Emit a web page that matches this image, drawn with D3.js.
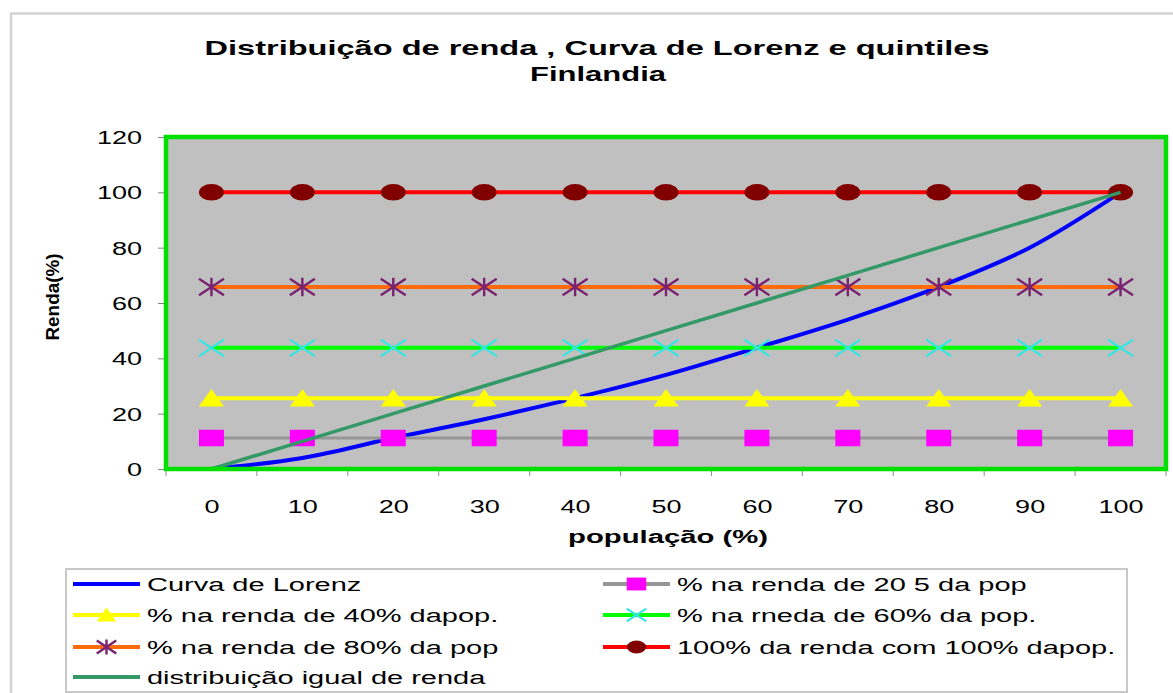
<!DOCTYPE html>
<html>
<head>
<meta charset="utf-8">
<script src="https://cdn.jsdelivr.net/npm/d3@7"></script>
<style>
  html, body { margin: 0; padding: 0; background: #ffffff; }
  svg { display: block; font-family: "Liberation Sans", Arial, sans-serif; }
</style>
</head>
<body>
<svg id="chart" width="1173" height="693"></svg>
<script>
// ---------- data ----------
const categories = ["0", "10", "20", "30", "40", "50", "60", "70", "80", "90", "100"];
const lorenz   = [0, 4, 11.2, 18, 25.6, 34, 43.8, 54, 65.8, 80, 100];
const share20  = [11.2, 11.2, 11.2, 11.2, 11.2, 11.2, 11.2, 11.2, 11.2, 11.2, 11.2];
const share40  = [25.6, 25.6, 25.6, 25.6, 25.6, 25.6, 25.6, 25.6, 25.6, 25.6, 25.6];
const share60  = [43.8, 43.8, 43.8, 43.8, 43.8, 43.8, 43.8, 43.8, 43.8, 43.8, 43.8];
const share80  = [65.8, 65.8, 65.8, 65.8, 65.8, 65.8, 65.8, 65.8, 65.8, 65.8, 65.8];
const share100 = [100, 100, 100, 100, 100, 100, 100, 100, 100, 100, 100];
const equalDist = [0, 10, 20, 30, 40, 50, 60, 70, 80, 90, 100];
const yTicks = [0, 20, 40, 60, 80, 100, 120];
const titleLines = ["Distribuição de renda , Curva de Lorenz  e quintiles", "Finlandia"];
const xTitle = "população (%)";
const yTitle = "Renda(%)";

const seriesDefs = [
  { name: "Curva de Lorenz", values: lorenz, line: "#0000ff", width: 4, marker: null, curve: true },
  { name: "% na renda de 20 5 da pop", values: share20, line: "#969696", width: 3, marker: "square", mcolor: "#ff00ff" },
  { name: "% na renda de 40% dapop.", values: share40, line: "#ffff00", width: 4, marker: "triangle", mcolor: "#ffff00" },
  { name: "% na rneda de 60% da pop.", values: share60, line: "#00ff00", width: 4, marker: "x", mcolor: "#33e6e6" },
  { name: "% na renda de 80% da pop", values: share80, line: "#ff6a0a", width: 4, marker: "star", mcolor: "#7a2270" },
  { name: "100% da renda com 100% dapop.", values: share100, line: "#ff0000", width: 4, marker: "circle", mcolor: "#800000" },
  { name: "distribuição igual de renda", values: equalDist, line: "#339966", width: 3.5, marker: null }
];

// ---------- layout ----------
const svg = d3.select("#chart");
const plot = { left: 166, right: 1166, top: 137, bottom: 469 };

const x = d3.scalePoint().domain(categories).range([plot.left, plot.right]).padding(0.5);
const xBand = d3.scaleBand().domain(categories).range([plot.left, plot.right]).padding(0);
const y = d3.scaleLinear().domain([0, 120]).range([plot.bottom, plot.top]);

function stretch(sel, f) {
  sel.each(function () {
    const w = this.getComputedTextLength();
    d3.select(this).attr("textLength", w * f).attr("lengthAdjust", "spacingAndGlyphs");
  });
}

// outer frame
svg.append("path")
  .attr("d", "M11,693 L11,13.5 L1173,13.5")
  .attr("fill", "none").attr("stroke", "#d2d2d2").attr("stroke-width", 2.5);

// titles
svg.append("text").attr("x", 597).attr("y", 55).attr("text-anchor", "middle")
  .attr("font-size", 21).attr("font-weight", "bold").attr("fill", "#000")
  .attr("textLength", 785).attr("lengthAdjust", "spacingAndGlyphs").text(titleLines[0]);
svg.append("text").attr("x", 598).attr("y", 81).attr("text-anchor", "middle")
  .attr("font-size", 21).attr("font-weight", "bold").attr("fill", "#000")
  .attr("textLength", 136).attr("lengthAdjust", "spacingAndGlyphs").text(titleLines[1]);

// plot background
svg.append("rect")
  .attr("x", plot.left).attr("y", plot.top)
  .attr("width", plot.right - plot.left).attr("height", plot.bottom - plot.top)
  .attr("fill", "#c0c0c0");

// y axis
const yAxis = svg.append("g").attr("transform", `translate(${plot.left - 2},0)`)
  .call(d3.axisLeft(y).tickValues(yTicks).tickSize(6).tickPadding(16));
yAxis.select(".domain").remove();
yAxis.selectAll(".tick line").attr("stroke", "#808080");
yAxis.selectAll(".tick text").attr("font-size", 18).attr("font-family", "Liberation Sans, Arial, sans-serif")
  .attr("fill", "#000").attr("dy", "0.36em").call(stretch, 1.5);

// x axis: labels at points, tick marks at band edges
const xAxis = svg.append("g").attr("transform", `translate(0,${plot.bottom})`)
  .call(d3.axisBottom(x).tickSize(0).tickPadding(31));
xAxis.select(".domain").remove();
xAxis.selectAll(".tick text").attr("font-size", 18).attr("font-family", "Liberation Sans, Arial, sans-serif")
  .attr("fill", "#000").call(stretch, 1.5);
const edges = categories.map(c => xBand(c)).concat([xBand.range()[1]]);
svg.append("g").selectAll("line").data(edges).join("line")
  .attr("x1", d => d).attr("x2", d => d)
  .attr("y1", plot.bottom + 2).attr("y2", plot.bottom + 7)
  .attr("stroke", "#909090").attr("stroke-width", 1);

// axis titles
svg.append("text").attr("x", 668).attr("y", 543).attr("text-anchor", "middle")
  .attr("font-size", 18).attr("font-weight", "bold").attr("fill", "#000")
  .attr("textLength", 200).attr("lengthAdjust", "spacingAndGlyphs").text(xTitle);
svg.append("text").attr("transform", "translate(59,297) rotate(-90)").attr("text-anchor", "middle")
  .attr("font-size", 18).attr("font-weight", "bold").attr("fill", "#000")
  .attr("textLength", 87).attr("lengthAdjust", "spacingAndGlyphs").text(yTitle);

// ---------- markers ----------
function drawMarker(g, type, color, cx, cy, s) {
  const w = 25 * s, h = 16.5 * s;
  if (type === "circle") {
    g.append("ellipse").attr("cx", cx).attr("cy", cy).attr("rx", w / 2).attr("ry", h / 2).attr("fill", color);
  } else if (type === "square") {
    g.append("rect").attr("x", cx - w / 2).attr("y", cy - h / 2).attr("width", w).attr("height", h).attr("fill", color);
  } else if (type === "triangle") {
    g.append("path").attr("d", `M${cx},${cy - h / 2 - 1} L${cx + w / 2},${cy + h / 2} L${cx - w / 2},${cy + h / 2} Z`).attr("fill", color);
  } else if (type === "x") {
    g.append("path").attr("d", `M${cx - w / 2},${cy - h / 2} L${cx + w / 2},${cy + h / 2} M${cx - w / 2},${cy + h / 2} L${cx + w / 2},${cy - h / 2}`)
      .attr("stroke", color).attr("stroke-width", 2.2).attr("fill", "none");
  } else if (type === "star") {
    g.append("path").attr("d", `M${cx - w / 2},${cy - h / 2} L${cx + w / 2},${cy + h / 2} M${cx - w / 2},${cy + h / 2} L${cx + w / 2},${cy - h / 2} M${cx},${cy - h / 2 - 1} L${cx},${cy + h / 2 + 1}`)
      .attr("stroke", color).attr("stroke-width", 2.4).attr("fill", "none");
  }
}

// ---------- series ----------
const seriesG = svg.append("g");
seriesDefs.forEach(sd => {
  const line = d3.line()
    .x((d, i) => x(categories[i]))
    .y(d => y(d))
    .curve(sd.curve ? d3.curveCatmullRom.alpha(0.5) : d3.curveLinear);
  const g = seriesG.append("g");
  g.append("path").datum(sd.values).attr("d", line)
    .attr("fill", "none").attr("stroke", sd.line).attr("stroke-width", sd.width)
    .attr("stroke-linejoin", "round");
  if (sd.marker) {
    sd.values.forEach((v, i) => drawMarker(g, sd.marker, sd.mcolor, x(categories[i]), y(v), 1));
  }
});

// plot border (green)
svg.append("rect")
  .attr("x", plot.left).attr("y", plot.top)
  .attr("width", plot.right - plot.left).attr("height", plot.bottom - plot.top)
  .attr("fill", "none").attr("stroke", "#00e000").attr("stroke-width", 4.5);

// ---------- legend ----------
const legend = svg.append("g");
legend.append("rect").attr("x", 66).attr("y", 569).attr("width", 1061).attr("height", 123)
  .attr("fill", "#fff").attr("stroke", "#c8c8c8").attr("stroke-width", 2);
const rowsY = [584, 615, 647, 677];
const cols = [{ x0: 73, x1: 140, tx: 147 }, { x0: 603, x1: 670, tx: 677 }];
seriesDefs.forEach((sd, i) => {
  const col = cols[i % 2];
  const ry = rowsY[Math.floor(i / 2)];
  const g = legend.append("g");
  g.append("line").attr("x1", col.x0).attr("x2", col.x1).attr("y1", ry).attr("y2", ry)
    .attr("stroke", sd.line).attr("stroke-width", 4);
  if (sd.marker) drawMarker(g, sd.marker, sd.mcolor, (col.x0 + col.x1) / 2, ry, 0.78);
  g.append("text").attr("x", col.tx).attr("y", ry + 6.5)
    .attr("font-size", 18).attr("fill", "#000").text(sd.name).call(stretch, 1.61);
});
</script>
</body>
</html>
